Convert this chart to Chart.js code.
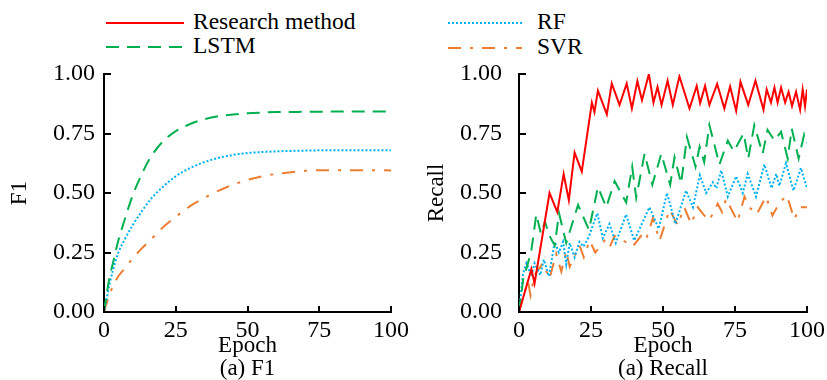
<!DOCTYPE html>
<html>
<head>
<meta charset="utf-8">
<script src="https://cdn.jsdelivr.net/npm/chart.js@4.4.1/dist/chart.umd.min.js"></script>
<style>
  body { margin: 0; width: 827px; height: 380px; background: #fff; position: relative; overflow: hidden; font-family: "Liberation Serif", "Times New Roman", serif; }
  .wrap { position: absolute; top: 60px; height: 320px; }
  #leftWrap { left: 0; width: 410px; }
  #rightWrap { left: 410px; width: 417px; }
  .leg { position: absolute; font-size: 23.5px; line-height: 24px; color: #000; white-space: nowrap; }
  .legLine { position: absolute; }
</style>
</head>
<body>
<!-- legend shared by both panels -->
<svg class="legLine" style="left:106px;top:18px" width="78" height="10"><line x1="0" y1="5" x2="78" y2="5" stroke="#ff0000" stroke-width="2"/></svg>
<div class="leg" style="left:193px;top:9px">Research method</div>
<svg class="legLine" style="left:106px;top:42px" width="78" height="10"><line x1="0" y1="5" x2="78" y2="5" stroke="#00b050" stroke-width="2" stroke-dasharray="13 8"/></svg>
<div class="leg" style="left:193px;top:33px">LSTM</div>
<svg class="legLine" style="left:448px;top:18px" width="74" height="10"><line x1="0" y1="5" x2="74" y2="5" stroke="#00b0f0" stroke-width="2" stroke-dasharray="2 2"/></svg>
<div class="leg" style="left:537px;top:9px">RF</div>
<svg class="legLine" style="left:448px;top:43px" width="74" height="10"><line x1="0" y1="5" x2="74" y2="5" stroke="#ed7d31" stroke-width="2" stroke-dasharray="13 9 3 9"/></svg>
<div class="leg" style="left:537px;top:34px">SVR</div>

<div class="wrap" id="leftWrap"><canvas id="chartF1"></canvas></div>
<div class="wrap" id="rightWrap"><canvas id="chartRecall"></canvas></div>

<script>
// ---- data ----
const seriesNames = ['Research method', 'LSTM', 'RF', 'SVR'];
const xTicks = [0, 25, 50, 75, 100];

// (a) F1 — smooth curves, shared epochs
const f1Epochs = [0, 1, 2, 3, 5, 7, 10, 13, 16, 20, 25, 30, 35, 40, 45, 50, 55, 60, 70, 80, 90, 100];
const f1Lstm   = [0, .08, .15, .20, .30, .38, .49, .575, .645, .71, .76, .79, .81, .823, .83, .835, .838, .84, .841, .842, .842, .842];
const f1Rf     = [0, .06, .12, .17, .25, .30, .365, .42, .47, .52, .57, .605, .63, .648, .66, .668, .672, .675, .678, .68, .68, .68];
const f1Svr    = [0, .04, .075, .105, .15, .18, .225, .265, .30, .35, .40, .445, .48, .51, .535, .555, .57, .58, .593, .596, .596, .595];

// (a) Recall — zigzag curves
const recResEpochs = [0, 4.3, 5.4, 10.6, 13.3, 15.5, 17.3, 19.3, 21.8, 25.3, 26.2, 27.4, 30.5, 32.2, 34.9, 37.4, 39.2, 41.1, 42.7, 45.1, 46.7, 48.1, 49.5, 51.6, 53.4, 55.7, 59.2, 61.7, 62.9, 64.6, 66.1, 68.8, 71.3, 73.3, 75.4, 76.9, 79.6, 82.1, 84.9, 86.0, 87.5, 88.7, 89.8, 91.0, 92.4, 93.6, 94.8, 96.2, 97.6, 98.5, 99.3, 100];
const recRes       = [0, .18, .12, .50, .42, .58, .47, .67, .59, .88, .84, .93, .83, .96, .87, .96, .855, .97, .89, 1.0, .88, .945, .87, .972, .87, .99, .855, .95, .877, .95, .87, .958, .855, .947, .845, .967, .87, .972, .85, .935, .88, .943, .88, .943, .88, .925, .865, .925, .85, .935, .865, .935];

const recLstmEpochs = [0, 1.5, 3, 4.3, 6.0, 7.6, 9.0, 10.6, 12.4, 13.9, 16.4, 20.5, 24.3, 27.4, 30.3, 33.2, 37.2, 39.3, 40.7, 43.6, 46.3, 49.4, 52.5, 54.0, 56.3, 58.3, 61.3, 62.7, 64.3, 66.1, 69.6, 72.5, 74.6, 78.0, 79.6, 81.7, 84.6, 86.3, 88.7, 91.0, 93.3, 94.7, 97.1, 99.0, 100];
const recLstm       = [0, .14, .20, .26, .41, .33, .38, .32, .28, .415, .29, .45, .345, .525, .44, .55, .46, .61, .48, .665, .535, .665, .535, .65, .54, .735, .61, .695, .63, .785, .62, .72, .675, .75, .645, .785, .665, .765, .72, .757, .645, .77, .645, .745, .71];

const recRfEpochs = [0, 1.4, 2.6, 4.3, 5.4, 7.4, 8.6, 10.4, 12.4, 13.8, 15.3, 16.4, 17.6, 19.3, 21.0, 22.4, 24.2, 27.2, 29.1, 31.4, 33.6, 37.2, 40.0, 45.3, 48.5, 51.4, 54.3, 58.0, 60.4, 62.8, 65.0, 67.3, 68.5, 70.2, 72.5, 75.4, 77.7, 79.4, 82.3, 85.2, 87.7, 89.3, 90.4, 92.7, 95.3, 97.9, 100];
const recRf       = [0, .16, .205, .15, .205, .155, .22, .15, .295, .25, .295, .20, .29, .23, .295, .275, .315, .415, .31, .37, .29, .41, .30, .44, .35, .50, .37, .51, .44, .575, .50, .545, .52, .595, .485, .57, .50, .58, .485, .62, .52, .58, .53, .625, .51, .605, .52];

const recSvrEpochs = [0, 3.1, 4.0, 5.4, 8.3, 10.6, 12.9, 14.7, 16.4, 17.6, 21.0, 22.5, 24.5, 26.5, 29.7, 31.4, 33.2, 36.2, 39.5, 42.4, 44.0, 46.5, 48.8, 52.3, 55.1, 57.4, 59.8, 62.1, 64.0, 66.1, 69.0, 70.5, 71.9, 75.9, 78.3, 80.0, 82.5, 85.8, 88.0, 90.5, 93.0, 95.6, 97.5, 100];
const recSvr       = [0, .13, .07, .155, .205, .14, .245, .17, .255, .19, .28, .23, .30, .25, .30, .27, .32, .30, .275, .32, .30, .395, .30, .43, .365, .44, .37, .44, .41, .385, .455, .42, .475, .38, .485, .44, .41, .485, .405, .46, .49, .39, .44, .44];

const colors = ['#ff0000', '#00b050', '#00b0f0', '#ed7d31'];
const dashes = [[], [13, 8], [2, 2], [13, 9, 3, 9]];

const toPts = (xs, ys) => xs.map((x, i) => ({ x, y: ys[i] }));

function makeDataset(i, xs, ys, smooth) {
  return {
    label: seriesNames[i],
    data: toPts(xs, ys),
    borderColor: colors[i],
    borderWidth: 2,
    borderDash: dashes[i],
    pointRadius: 0,
    fill: false,
    tension: smooth ? 0.4 : 0,
    cubicInterpolationMode: smooth ? 'monotone' : 'default'
  };
}

// tick marks pointing into the plot, taken from the scales' own ticks
const innerTicks = {
  id: 'innerTicks',
  afterDatasetsDraw(chart) {
    const ctx = chart.ctx;
    const area = chart.chartArea;
    const xs = chart.scales.x;
    const ys = chart.scales.y;
    ctx.save();
    ctx.setLineDash([]);
    ctx.strokeStyle = '#000';
    ctx.lineWidth = 2;
    for (const t of ys.ticks) {
      const py = Math.round(ys.getPixelForValue(t.value));
      ctx.beginPath();
      ctx.moveTo(area.left, py);
      ctx.lineTo(area.left + 7, py);
      ctx.stroke();
    }
    for (const t of xs.ticks) {
      const px = Math.round(xs.getPixelForValue(t.value));
      ctx.beginPath();
      ctx.moveTo(px, area.bottom);
      ctx.lineTo(px, area.bottom - 6);
      ctx.stroke();
    }
    ctx.restore();
  }
};

const serif = '"Liberation Serif", "Times New Roman", serif';

function makeOptions(yTitle, caption, yAxisW, rightPad, yTitlePad, yTickPad) {
  return {
    responsive: true,
    maintainAspectRatio: false,
    animation: false,
    layout: { padding: { top: 14, right: rightPad, left: 0, bottom: 0 } },
    plugins: { legend: { display: false }, tooltip: { enabled: false } },
    scales: {
      x: {
        type: 'linear',
        min: 0,
        max: 100,
        afterBuildTicks: s => { s.ticks = xTicks.map(v => ({ value: v })); },
        afterFit: s => { s.height = 68; s.paddingLeft = 0; s.paddingRight = 0; },
        border: { color: '#000', width: 2 },
        grid: { display: false, drawTicks: false, tickLength: 0 },
        ticks: { color: '#000', padding: 4, maxRotation: 0, font: { family: serif, size: 24 } },
        title: { display: true, text: ['Epoch', caption], color: '#000', font: { family: serif, size: 23, lineHeight: 1 }, padding: { top: 0, bottom: 0 } }
      },
      y: {
        min: 0,
        max: 1,
        afterFit: s => { s.width = yAxisW; s.paddingTop = 0; s.paddingBottom = 0; },
        border: { color: '#000', width: 2 },
        grid: { display: false, drawTicks: false, tickLength: 0 },
        ticks: {
          stepSize: 0.125,
          color: '#000',
          padding: yTickPad,
          font: { family: serif, size: 24 },
          callback: v => (Math.round(v * 8) % 2 === 0 ? v.toFixed(2) : '')
        },
        title: { display: true, text: yTitle, color: '#000', font: { family: serif, size: 23, lineHeight: 1 }, padding: { top: yTitlePad, bottom: 0 } }
      }
    }
  };
}

new Chart(document.getElementById('chartF1'), {
  type: 'line',
  data: {
    datasets: [
      makeDataset(1, f1Epochs, f1Lstm, true),
      makeDataset(2, f1Epochs, f1Rf, true),
      makeDataset(3, f1Epochs, f1Svr, true)
    ]
  },
  options: makeOptions('F1', '(a) F1', 104, 19, 8, 9),
  plugins: [innerTicks]
});

new Chart(document.getElementById('chartRecall'), {
  type: 'line',
  data: {
    datasets: [
      makeDataset(0, recResEpochs, recRes, false),
      makeDataset(1, recLstmEpochs, recLstm, false),
      makeDataset(2, recRfEpochs, recRf, false),
      makeDataset(3, recSvrEpochs, recSvr, false)
    ]
  },
  options: makeOptions('Recall', '(a) Recall', 109, 20, 15, 17),
  plugins: [innerTicks]
});
</script>
</body>
</html>
